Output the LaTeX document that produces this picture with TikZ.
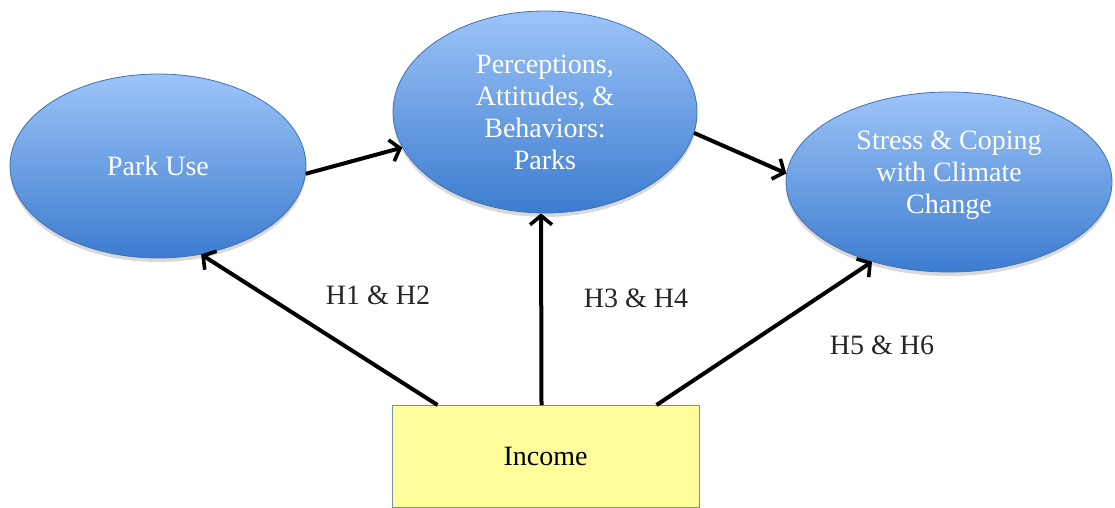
\documentclass[tikz,border=0pt]{standalone}
\usepackage{fontspec}
\setmainfont{Liberation Serif}
\usetikzlibrary{shapes.geometric,arrows.meta,shadows,calc}
\definecolor{elltop}{RGB}{157,196,248}
\definecolor{ellbot}{RGB}{60,124,207}
\definecolor{ellborder}{RGB}{66,112,178}
\definecolor{boxfill}{RGB}{255,253,153}
\definecolor{boxborder}{RGB}{110,145,190}
\tikzset{
  bubble/.style={ellipse, draw=ellborder, line width=0.8pt, top color=elltop, bottom color=ellbot,
    text=white, align=center, inner sep=0pt,
    font=\fontsize{28}{32}\selectfont,
    drop shadow={shadow xshift=0pt, shadow yshift=-4pt, opacity=0.3}},
  incbox/.style={rectangle, draw=boxborder, line width=1pt, fill=boxfill, align=center,
    font=\fontsize{28}{32}\selectfont, text=black},
  hyp/.style={font=\fontsize{28}{32}\selectfont, text=black!85},
  link/.style={line width=4pt, black, -{Straight Barb[length=9pt,width=22pt,line width=3.6pt]}}
}
\begin{document}
\begin{tikzpicture}[x=1pt,y=1pt]
\useasboundingbox (0,0) rectangle (1115,-508);
\node[bubble, minimum width=296pt, minimum height=184pt] (pu) at (158,-166) {Park Use};
\node[bubble, minimum width=304pt, minimum height=202pt] (pa) at (545,-112) {Perceptions,\\Attitudes, \&\\Behaviors:\\Parks};
\node[bubble, minimum width=326pt, minimum height=180pt] (st) at (949,-182) {Stress \& Coping\\with Climate\\Change\\[-12pt]\mbox{}};
\node[incbox, minimum width=307pt, minimum height=102pt] (in) at (545.5,-456.5) {Income};
\node[hyp] (h12) at (378,-295) {H1 \& H2};
\node[hyp] (h34) at (636,-298) {H3 \& H4};
\node[hyp] (h56) at (882,-345) {H5 \& H6};
\draw[link] (pu.-3) -- (pa.194);
\draw[link] (pa.-8) -- (st.177);
\draw[link] ([xshift=-108pt]in.north) -- (pu.-64);
\draw[link] ([xshift=-4pt]in.north) -- ([xshift=-4pt]pa.south);
\draw[link] ([xshift=111pt]in.north) -- (st.226);
\end{tikzpicture}
\end{document}
